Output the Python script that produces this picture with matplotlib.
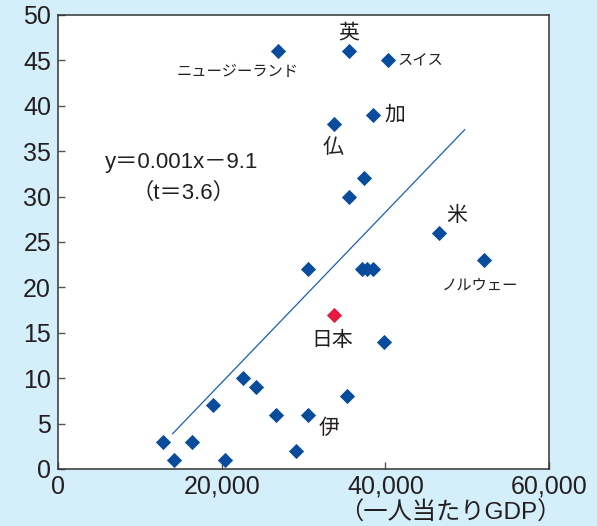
import numpy as np
import matplotlib.pyplot as plt

plt.rcParams['font.family'] = ['Liberation Sans', 'Noto Sans CJK JP']

# ─── Data ──────────────────────────────────────────────────────────────────────
gdp = [12800, 14200, 16400, 18900, 20400, 22600, 24200, 26600, 29100, 30600,
       35300, 30600, 39800, 37100, 37700, 38500, 35600, 37400, 33700, 38500,
       26900, 35600, 40300, 46600, 52100]
val = [3, 1, 3, 7, 1, 10, 9, 6, 2, 6,
       8, 22, 14, 22, 22, 22, 30, 32, 38, 39,
       46, 46, 45, 26, 23]
japan_gdp = [33700]
japan_val = [17]

# regression line as drawn in the chart
fit_slope = 0.000938
fit_intercept = -9.25
fit_x_range = [14000, 49700]

label_text = ['英', 'ニュージーランド', 'スイス', '加', '仏', '米', 'ノルウェー', '日本', '伊']
label_x = [35560, 21900, 41500, 39900, 33600, 48760, 51570, 33570, 33150]
label_y = [48.1, 43.8, 44.9, 39.0, 35.5, 28.0, 20.3, 14.2, 4.5]
label_size = [15, 11, 11, 15, 15, 15, 11, 15, 15]
label_ha = ['center', 'center', 'left', 'left', 'center', 'center', 'center', 'center', 'center']

x_ticks = [0, 20000, 40000, 60000]
y_ticks = list(range(0, 51, 5))

BLUE = '#0a4c9c'
RED = '#e8193f'
BG = '#d4eefa'
TXT = '#231f20'

fx = np.array(fit_x_range)
fy = fit_slope * fx + fit_intercept

# ─── Plot ────────────────────────────────────────────────────────────────────
fig = plt.figure(figsize=(5.97, 5.26), dpi=100, facecolor=BG)
ax = fig.add_axes([0.0972, 0.1084, 0.8224, 0.8631])
ax.set_facecolor('white')

ax.plot(fx, fy, color='#1a5fb4', lw=0.9, zorder=2)
ax.scatter(gdp, val, marker='D', s=60, color=BLUE, linewidths=0, zorder=3)
ax.scatter(japan_gdp, japan_val, marker='D', s=60, color=RED, linewidths=0, zorder=3)

for t, x, y, s, ha in zip(label_text, label_x, label_y, label_size, label_ha):
    ax.text(x, y, t, fontsize=s, ha=ha, va='center', color=TXT,
            family=['Noto Sans CJK JP'])

ax.text(15150, 33.7, 'y＝0.001x－9.1', fontsize=16, ha='center', va='center', color=TXT)
ax.text(15270, 30.4, '（t＝3.6）', fontsize=16, ha='center', va='center', color=TXT)

ax.set_xlim(0, 60000)
ax.set_ylim(0, 50)
ax.set_xticks(x_ticks)
ax.set_xticklabels([f'{v:,}' for v in x_ticks])
ax.set_yticks(y_ticks)
ax.tick_params(direction='in', length=5, width=1, color='#555555',
               labelsize=18, labelcolor=TXT)
ax.tick_params(axis='x', pad=4)
ax.tick_params(axis='y', pad=5)

for sp in ax.spines.values():
    sp.set_color('#333333')
    sp.set_linewidth(1.1)

ax.set_xlabel('（一人当たりGDP）', fontsize=17.5, color=TXT)
ax.xaxis.set_label_coords(0.80, -0.097)
ax.xaxis.label.set_verticalalignment('center')

fig.savefig('out.png', dpi=100, facecolor=BG)
